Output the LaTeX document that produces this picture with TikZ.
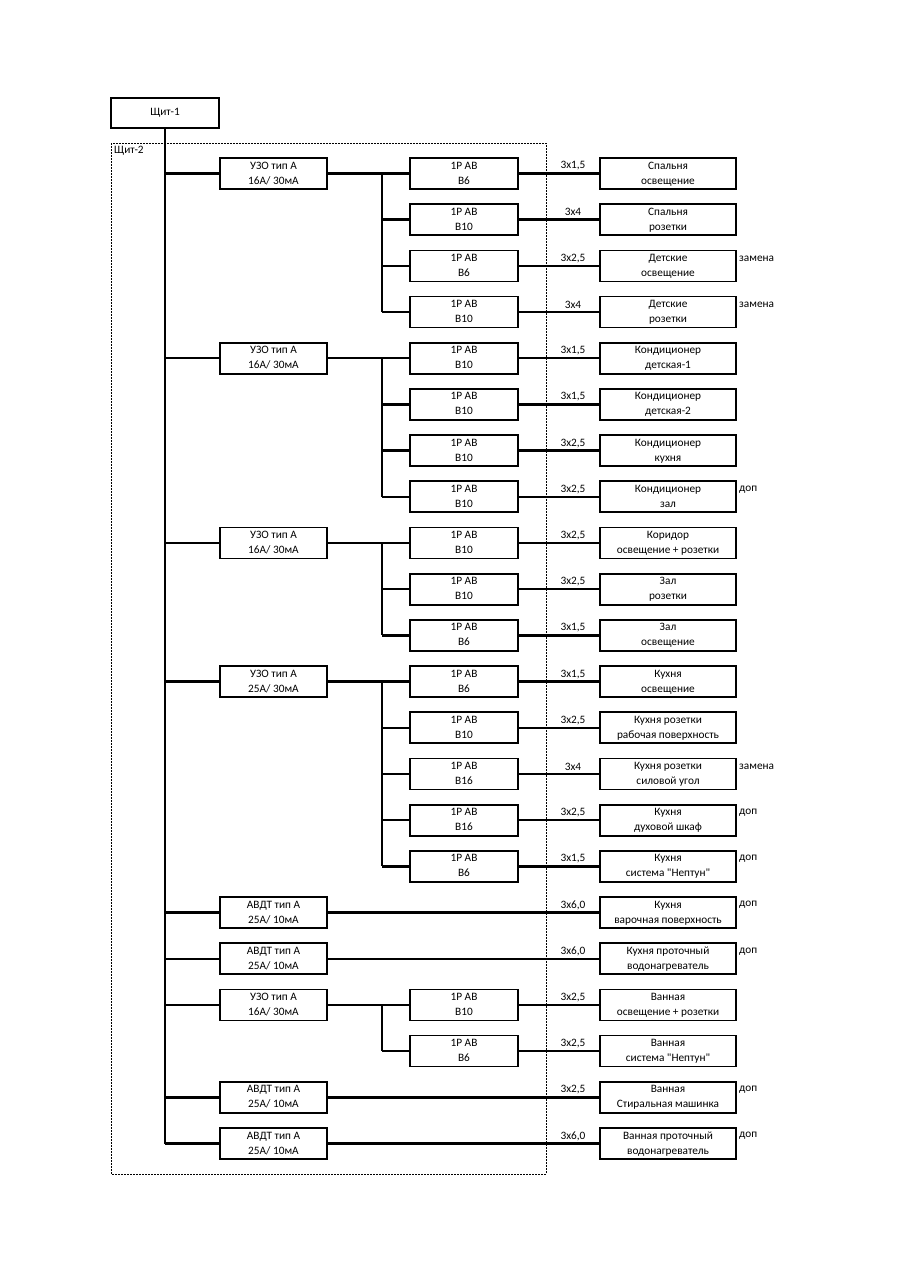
\documentclass[tikz,border=0pt]{standalone}
\usepackage{fontspec}
\setmainfont{Carlito}[Ligatures=TeXOff]
\newcommand\rowY[1]{173.5+46.19*(#1-1)}
\tikzset{
 box/.style={draw, line width=1.7pt, minimum height=31pt, inner sep=0pt, align=center, font=\fontsize{11.3}{15}\selectfont},
 uzobox/.style={box, minimum width=107pt},
 abbox/.style={box, minimum width=108pt},
 loadbox/.style={box, minimum width=136pt},
 wire/.style={line width=2.4pt},
 lbl/.style={inner sep=0pt, font=\fontsize{11.3}{15}\selectfont},
 frame/.style={line width=1pt, dash pattern=on 2pt off 1pt},
}
\newcommand\myuzo[3]{\node[uzobox] (uzo#1) at (273.5,{\rowY{#1}}) {\strut #2\\#3\strut};
  \draw[wire] (sh1.south |- uzo#1.west) -- (uzo#1.west);}
\newcommand\myab[2]{\node[abbox] (ab#1) at (464,{\rowY{#1}}) {\strut 1Р АВ\\#2\strut};}
\newcommand\myload[5]{\node[loadbox] (ld#1) at (668,{\rowY{#1}}) {\strut #4\\#5\strut};
  \node[lbl] (cb#1) at (573,{\rowY{#1}-7.5}) {#3};
  \draw[wire] (#2.east) -- (ld#1.west);}
\newcommand\mynote[2]{\node[lbl, anchor=west] (nt#1) at (739,{\rowY{#1}-7.5}) {#2};}
\begin{document}
\begin{tikzpicture}[x=1pt,y=-1pt]
\useasboundingbox (0,0) rectangle (905,1280);
\node[box, minimum width=108pt, minimum height=30pt] (sh1) at (165,113) {Щит-1};
\draw[frame] (111,143) rectangle (546,1174);
\node[lbl, anchor=north west] (sh2) at (114,146) {Щит-2};
% main bus
\myuzo{1}{УЗО тип А}{16А/ 30мА}
\myuzo{5}{УЗО тип А}{16А/ 30мА}
\myuzo{9}{УЗО тип А}{16А/ 30мА}
\myuzo{12}{УЗО тип А}{25А/ 30мА}
\myuzo{17}{АВДТ тип А}{25А/ 10мА}
\myuzo{18}{АВДТ тип А}{25А/ 10мА}
\myuzo{19}{УЗО тип А}{16А/ 30мА}
\myuzo{21}{АВДТ тип А}{25А/ 10мА}
\myuzo{22}{АВДТ тип А}{25А/ 10мА}
\draw[wire] (sh1.south) -- (sh1.south |- uzo22.west);
% breakers
\myab{1}{В6}\myab{2}{В10}\myab{3}{В6}\myab{4}{В10}
\myab{5}{В10}\myab{6}{В10}\myab{7}{В10}\myab{8}{В10}
\myab{9}{В10}\myab{10}{В10}\myab{11}{В6}
\myab{12}{В6}\myab{13}{В10}\myab{14}{В16}\myab{15}{В16}\myab{16}{В6}
\myab{19}{В10}\myab{20}{В6}
% sub buses
\foreach \g/\a/\b in {1/1/4, 5/5/8, 9/9/11, 12/12/16, 19/19/20}{
  \coordinate (j\g) at (382,{\rowY{\g}});
  \draw[wire] (uzo\g.east) -- (ab\g.west);
  \draw[wire] (j\g) -- (j\g |- ab\b.west);
  \foreach \k in {\a,...,\b}{\draw[wire] (j\g |- ab\k.west) -- (ab\k.west);}
}
% loads
\myload{1}{ab1}{3х1,5}{Спальня}{освещение}
\myload{2}{ab2}{3х4}{Спальня}{розетки}
\myload{3}{ab3}{3х2,5}{Детские}{освещение}
\myload{4}{ab4}{3х4}{Детские}{розетки}
\myload{5}{ab5}{3х1,5}{Кондиционер}{детская-1}
\myload{6}{ab6}{3х1,5}{Кондиционер}{детская-2}
\myload{7}{ab7}{3х2,5}{Кондиционер}{кухня}
\myload{8}{ab8}{3х2,5}{Кондиционер}{зал}
\myload{9}{ab9}{3х2,5}{Коридор}{освещение + розетки}
\myload{10}{ab10}{3х2,5}{Зал}{розетки}
\myload{11}{ab11}{3х1,5}{Зал}{освещение}
\myload{12}{ab12}{3х1,5}{Кухня}{освещение}
\myload{13}{ab13}{3х2,5}{Кухня розетки}{рабочая поверхность}
\myload{14}{ab14}{3х4}{Кухня розетки}{силовой угол}
\myload{15}{ab15}{3х2,5}{Кухня}{духовой шкаф}
\myload{16}{ab16}{3х1,5}{Кухня}{система "Нептун"}
\myload{17}{uzo17}{3х6,0}{Кухня}{варочная поверхность}
\myload{18}{uzo18}{3х6,0}{Кухня проточный}{водонагреватель}
\myload{19}{ab19}{3х2,5}{Ванная}{освещение + розетки}
\myload{20}{ab20}{3х2,5}{Ванная}{система "Нептун"}
\myload{21}{uzo21}{3х2,5}{Ванная}{Стиральная машинка}
\myload{22}{uzo22}{3х6,0}{Ванная проточный}{водонагреватель}
% notes
\mynote{3}{замена}\mynote{4}{замена}\mynote{8}{доп}
\mynote{14}{замена}\mynote{15}{доп}\mynote{16}{доп}\mynote{17}{доп}
\mynote{18}{доп}\mynote{21}{доп}\mynote{22}{доп}
\end{tikzpicture}
\end{document}
